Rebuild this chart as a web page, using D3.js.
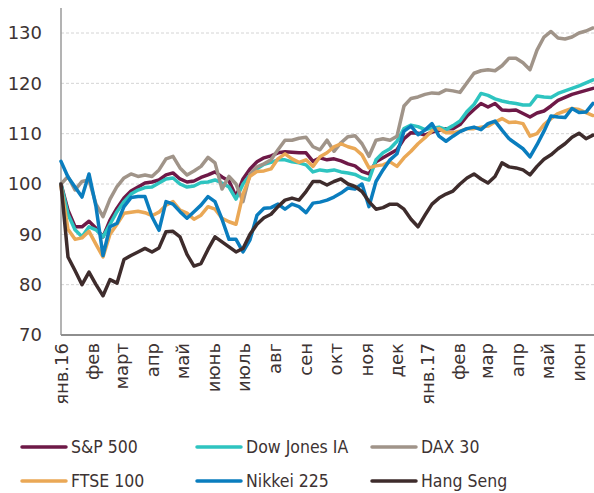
<!DOCTYPE html>
<html><head><meta charset="utf-8">
<script src="https://cdn.jsdelivr.net/npm/d3@7"></script>
<style>body{margin:0;background:#fff}svg{display:block}</style>
</head><body>
<svg id="c" width="594" height="493"></svg>
<script>
// Weekly observation dates (Jan 1 2016 .. Jun 16 2017)
const dates = d3.timeDay.range(new Date(2016,0,1), new Date(2017,5,17), 7);
const monthLabels = ["янв.16","фев","март","апр","май","июнь","июль","авг","сен","окт","ноя","дек","янв.17","фев","мар","апр","май","июн"];
const yTicks = [70,80,90,100,110,120,130];
const seriesNames = ["S&P 500","Dow Jones IA","DAX 30","FTSE 100","Nikkei 225","Hang Seng"];

const sp500 = [100,94.8,91.5,91.5,92.6,91.2,89.5,92.8,95.2,97.2,98.6,99.4,100.2,100.4,100.8,101.8,102.2,101.0,100.4,100.6,101.3,101.8,102.4,101.4,100.6,97.5,101.0,103.0,104.4,105.2,105.6,106.2,106.4,106.3,106.2,106.2,104.5,105.2,104.8,105.0,104.6,104.0,103.6,102.5,102.0,104.4,105.2,106.0,106.8,109.0,110.2,110.1,109.7,110.3,110.6,111.0,111.0,111.8,113.5,114.8,116.0,115.3,116.0,114.7,114.6,114.7,114.0,113.3,114.1,114.5,115.5,116.6,117.2,117.8,118.2,118.6,119.0];
const dowJones = [100,94,90.9,89.5,91.5,90.9,89.5,92,94.5,96.5,98,98.8,99.3,99.4,100.2,101,101.2,100,99.4,99.6,100.3,100.4,100.8,100.2,99.4,97,100,101.8,103,103.9,104.3,104.8,104.8,104.4,104.2,103.8,102.4,102.8,102.6,102.8,102.4,102.2,101.9,101.2,100.8,104.8,106.2,107,108.5,111,111.7,111.4,110.8,111.1,111.3,110.8,111.6,112.5,114.4,115.8,118,117.6,116.9,116.5,116.2,116,115.7,115.7,117.5,117.3,117.2,118,118.5,119,119.5,120.1,120.7];
const dax30 = [100,101.5,98.8,100.5,100.8,96,93.5,97,99.5,101.2,102,101.5,101.8,101.5,102.8,105,105.5,103.2,101.8,102.6,103.5,105.3,104.2,99,101.5,100,96.5,102,103.4,104,104.8,106.8,108.7,108.7,109.1,109.3,107.4,106.8,108.7,106.5,108.2,109.4,109.6,108,105.5,108.7,109,108.7,109.5,115.5,117,117.3,117.8,118.1,118,118.7,118.5,118.2,120.1,122,122.5,122.7,122.5,123.5,125,125,124.1,122.7,126.6,129.2,130.3,129,128.8,129.2,130,130.4,131];
const ftse100 = [99.5,91,89,89.3,90.6,88,85.5,90,92,94.2,94.4,94.6,94.3,93.7,94.4,95.8,96.5,94.8,94.2,93,93.8,95.5,95,93.2,92.5,92,98,101.5,102.5,102.6,103,105,106,105,104.3,104.8,103.5,105.4,106.2,107.4,108,107.4,107,105.8,103.2,103.6,103.8,104.4,103.5,105.2,106.5,108,109.2,110.6,111,110.2,110.2,110.5,111,111,111.3,111.5,112.3,113,112.2,112.3,112,109.5,110,111.8,113,114,114.5,115,114.8,114.2,113.6];
const nikkei225 = [104.5,101.4,99.4,97.4,102,95.5,85.8,91.5,92.2,95.5,97.3,97.5,97.5,93.5,90.8,96.5,96,94.5,93.2,94.5,95.8,97.5,96.5,93,89,89,86.5,88.9,93.8,95.2,95.3,96,95,96,95.5,94.3,96.2,96.4,96.8,97.4,98.2,99.2,99,100,95.5,100.5,102.8,104.8,106,110.5,111.5,109.8,110.7,112,109.5,108.5,109.5,110.4,111,111.3,110.8,112,112.5,110.7,109,108,107,105.4,107.8,110.5,113.5,113.3,113.2,115,114.2,114.3,116];
const hangSeng = [100,85.5,82.8,80,82.5,80,77.8,81,80.3,85,85.8,86.5,87.2,86.5,87.3,90.5,90.6,89.5,86,83.7,84.2,87,89.5,88.5,87.5,86.5,87.2,90,92,93.3,94,95.5,96.8,97.2,96.8,98.5,100.5,100.5,99.8,100.5,101,100,99.5,98.5,96.5,95,95.3,96,96,95,93,91.5,93.8,96,97.2,98,98.6,100,101.2,102,101,100.2,101.5,104.2,103.4,103.2,102.8,101.8,103.5,104.9,105.8,107,108,109.3,110.1,109,109.7];

const allSeries = [sp500, dowJones, dax30, ftse100, nikkei225, hangSeng];
const colors = ["#6e1947","#2ec4c0","#a09489","#eaa856","#0a7dbe","#3e2c2c"];

const svg = d3.select("#c");
const textColor = "#3d3333";
const x = d3.scaleTime().domain([dates[0], dates[dates.length-1]]).range([61, 593]);
const y = d3.scaleLinear().domain([70,130]).range([335, 33]);

// grid
svg.append("g").selectAll("line").data(yTicks.filter(d=>d>70)).join("line")
  .attr("x1",61).attr("x2",594).attr("y1",d=>y(d)).attr("y2",d=>y(d))
  .attr("stroke","#d4d4d4").attr("stroke-width",1).attr("stroke-dasharray","3,2");

// y axis
const yAxis = d3.axisLeft(y).tickValues(yTicks).tickSize(0).tickPadding(19);
const gy = svg.append("g").attr("transform","translate(61,0)").call(yAxis);
gy.select(".domain").remove();
gy.selectAll("text").attr("font-family","DejaVu Sans, sans-serif").attr("font-size",18).attr("fill",textColor);
svg.append("line").attr("x1",61).attr("x2",61).attr("y1",8).attr("y2",335).attr("stroke","#9a9a9a").attr("stroke-width",1.5);

// lines
const line = d3.line().x((d,i)=>x(dates[i])).y(d=>y(d)).curve(d3.curveLinear);
svg.append("g").selectAll("path").data(allSeries).join("path")
  .attr("d",d=>line(d)).attr("fill","none")
  .attr("stroke",(d,i)=>colors[i]).attr("stroke-width",3.5)
  .attr("stroke-linejoin","round").attr("stroke-linecap","round");

// x axis
svg.append("line").attr("x1",61).attr("x2",594).attr("y1",335).attr("y2",335).attr("stroke","#8e8e8e").attr("stroke-width",2);
const monthDates = monthLabels.map((m,i)=>new Date(2016, i, 1));
const xAxis = d3.axisBottom(x).tickValues(monthDates).tickSize(0).tickFormat((d,i)=>monthLabels[i]);
const gx = svg.append("g").attr("transform","translate(0,335)").call(xAxis);
gx.select(".domain").remove();
gx.selectAll("text")
  .attr("font-family","DejaVu Sans, sans-serif").attr("font-size",18).attr("fill",textColor)
  .attr("text-anchor","end").attr("transform","rotate(-90)")
  .attr("x",-8).attr("y",0).attr("dy","0.35em");

// legend
const legCols = [22,197,372];
const legRows = [447,481];
const leg = svg.append("g").selectAll("g").data(seriesNames).join("g")
  .attr("transform",(d,i)=>`translate(${legCols[i%3]},${legRows[Math.floor(i/3)]})`);
leg.append("line").attr("x1",0).attr("x2",44).attr("y1",0).attr("y2",0)
  .attr("stroke",(d,i)=>colors[i]).attr("stroke-width",3.5).attr("stroke-linecap","round");
leg.append("text").attr("x",49).attr("y",0).attr("dy","0.36em")
  .attr("font-family","DejaVu Sans Condensed, DejaVu Sans, sans-serif").attr("font-stretch","condensed")
  .attr("font-size",17.5).attr("fill",textColor)
  .text(d=>d);
</script>
</body></html>
